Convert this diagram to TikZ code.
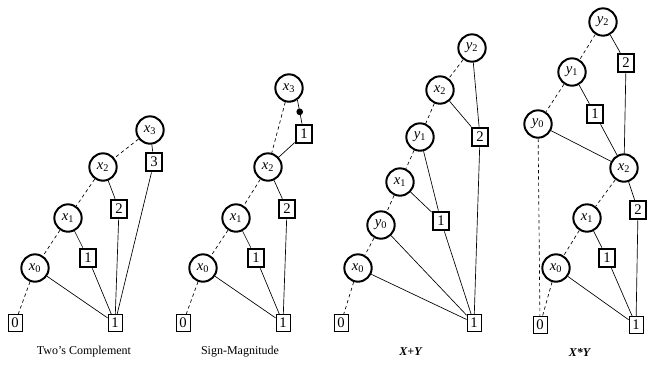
\documentclass[tikz,border=0pt]{standalone}
\usepackage{fontspec}
\setmainfont{Liberation Serif}
\usetikzlibrary{arrows.meta}
\tikzset{
  var/.style={circle,draw,line width=1.5pt,minimum size=20.5pt,inner sep=0pt,font=\fontsize{11}{12}\selectfont\itshape},
  lit/.style={rectangle,draw,line width=1.5pt,minimum width=12.5pt,minimum height=14pt,inner sep=0pt,font=\fontsize{11}{12}\selectfont},
  term/.style={rectangle,draw,line width=0.6pt,minimum width=10.5pt,minimum height=12.5pt,inner sep=0pt,font=\fontsize{11}{12}\selectfont},
  hi/.style={line width=0.5pt},
  lo/.style={line width=0.5pt,dashed,dash pattern=on 2.5pt off 2.2pt},
  negdot/.style={circle,fill,inner sep=0pt,minimum size=5pt},
  caption/.style={font=\small,inner sep=1pt}
}
\newcommand{\vv}[2]{#1\textsubscript{\upshape #2}}

\begin{document}
\begin{tikzpicture}[x=0.75pt,y=-0.75pt]
  \useasboundingbox (0,0) rectangle (649,365);
  % Two's complement
  \node[term] (a0) at (15,323) {0};
  \node[term] (a1) at (115,323) {1};
  \node[var] (ax0) at (35,268) {\vv{x}{0}};
  \node[var] (ax1) at (68,218) {\vv{x}{1}};
  \node[var] (ax2) at (103,167) {\vv{x}{2}};
  \node[var] (ax3) at (150,130) {\vv{x}{3}};
  \node[lit] (ak1) at (88,258) {1};
  \node[lit] (ak2) at (119,209) {2};
  \node[lit] (ak3) at (154,162) {3};
  \draw[lo] (ax3)--(ax2); \draw[lo] (ax2)--(ax1); \draw[lo] (ax1)--(ax0); \draw[lo] (ax0)--(a0);
  \draw[hi] (ax3)--(ak3)--(a1); \draw[hi] (ax2)--(ak2)--(a1);
  \draw[hi] (ax1)--(ak1)--(a1); \draw[hi] (ax0)--(a1);
  \node[caption] (acap) at (84,352) {Two's Complement};
  % sign-magnitude
  \node[term] (b0) at (183,323) {0};
  \node[term] (b1) at (283,323) {1};
  \node[var] (bx0) at (203,268) {\vv{x}{0}};
  \node[var] (bx1) at (236,218) {\vv{x}{1}};
  \node[var] (bx2) at (268,167) {\vv{x}{2}};
  \node[var] (bx3) at (289,88) {\vv{x}{3}};
  \node[lit] (bk1) at (256,258) {1};
  \node[lit] (bk2) at (287,209) {2};
  \node[lit] (bm) at (304,134) {1};
  \draw[lo] (bx3)--(bx2); \draw[lo] (bx2)--(bx1); \draw[lo] (bx1)--(bx0); \draw[lo] (bx0)--(b0);
  \draw[hi] (bx3.-55)--node[negdot] (bdot) {}(bm); \draw[hi] (bm)--(bx2);
  \draw[hi] (bx2)--(bk2)--(b1); \draw[hi] (bx1)--(bk1)--(b1); \draw[hi] (bx0)--(b1);
  \node[caption] (bcap) at (240,352) {Sign-Magnitude};
  % X+Y
  \node[term] (c0) at (341,323) {0};
  \node[term] (c1) at (474,323) {1};
  \node[var] (cx0) at (358,268) {\vv{x}{0}};
  \node[var] (cy0) at (381,225) {\vv{y}{0}};
  \node[var] (cx1) at (400,182) {\vv{x}{1}};
  \node[var] (cy1) at (420,137) {\vv{y}{1}};
  \node[var] (cx2) at (440,90) {\vv{x}{2}};
  \node[var] (cy2) at (472,48) {\vv{y}{2}};
  \node[lit] (ck1) at (441,221) {1};
  \node[lit] (ck2) at (480,137) {2};
  \draw[lo] (cy2)--(cx2); \draw[lo] (cx2)--(cy1); \draw[lo] (cy1)--(cx1);
  \draw[lo] (cx1)--(cy0); \draw[lo] (cy0)--(cx0); \draw[lo] (cx0)--(c0);
  \draw[hi] (cy2)--(ck2); \draw[hi] (cx2)--(ck2)--(c1);
  \draw[hi] (cy1)--(ck1); \draw[hi] (cx1)--(ck1)--(c1);
  \draw[hi] (cy0)--(c1); \draw[hi] (cx0)--(c1);
  \node[caption] (ccap) at (411,352) {\textbf{\textit{X+Y}}};
  % X*Y
  \node[term] (d0) at (540,325) {0};
  \node[term] (d1) at (636,325) {1};
  \node[var] (dy2) at (603,22) {\vv{y}{2}};
  \node[var] (dy1) at (572,72) {\vv{y}{1}};
  \node[var] (dy0) at (538,124) {\vv{y}{0}};
  \node[lit] (du2) at (626,63) {2};
  \node[lit] (du1) at (595,114) {1};
  \node[var] (dx2) at (624,168) {\vv{x}{2}};
  \node[var] (dx1) at (587,218) {\vv{x}{1}};
  \node[var] (dx0) at (556,268) {\vv{x}{0}};
  \node[lit] (dk2) at (638,210) {2};
  \node[lit] (dk1) at (607,258) {1};
  \draw[lo] (dy2)--(dy1); \draw[lo] (dy1)--(dy0); \draw[lo] (dy0)--(d0);
  \draw[lo] (dx2)--(dx1); \draw[lo] (dx1)--(dx0); \draw[lo] (dx0)--(d0);
  \draw[hi] (dy2)--(du2)--(dx2); \draw[hi] (dy1)--(du1)--(dx2); \draw[hi] (dy0)--(dx2);
  \draw[hi] (dx2)--(dk2)--(d1); \draw[hi] (dx1)--(dk1)--(d1); \draw[hi] (dx0)--(d1);
  \node[caption] (dcap) at (580,352) {\textbf{\textit{X*Y}}};
\end{tikzpicture}
\end{document}
